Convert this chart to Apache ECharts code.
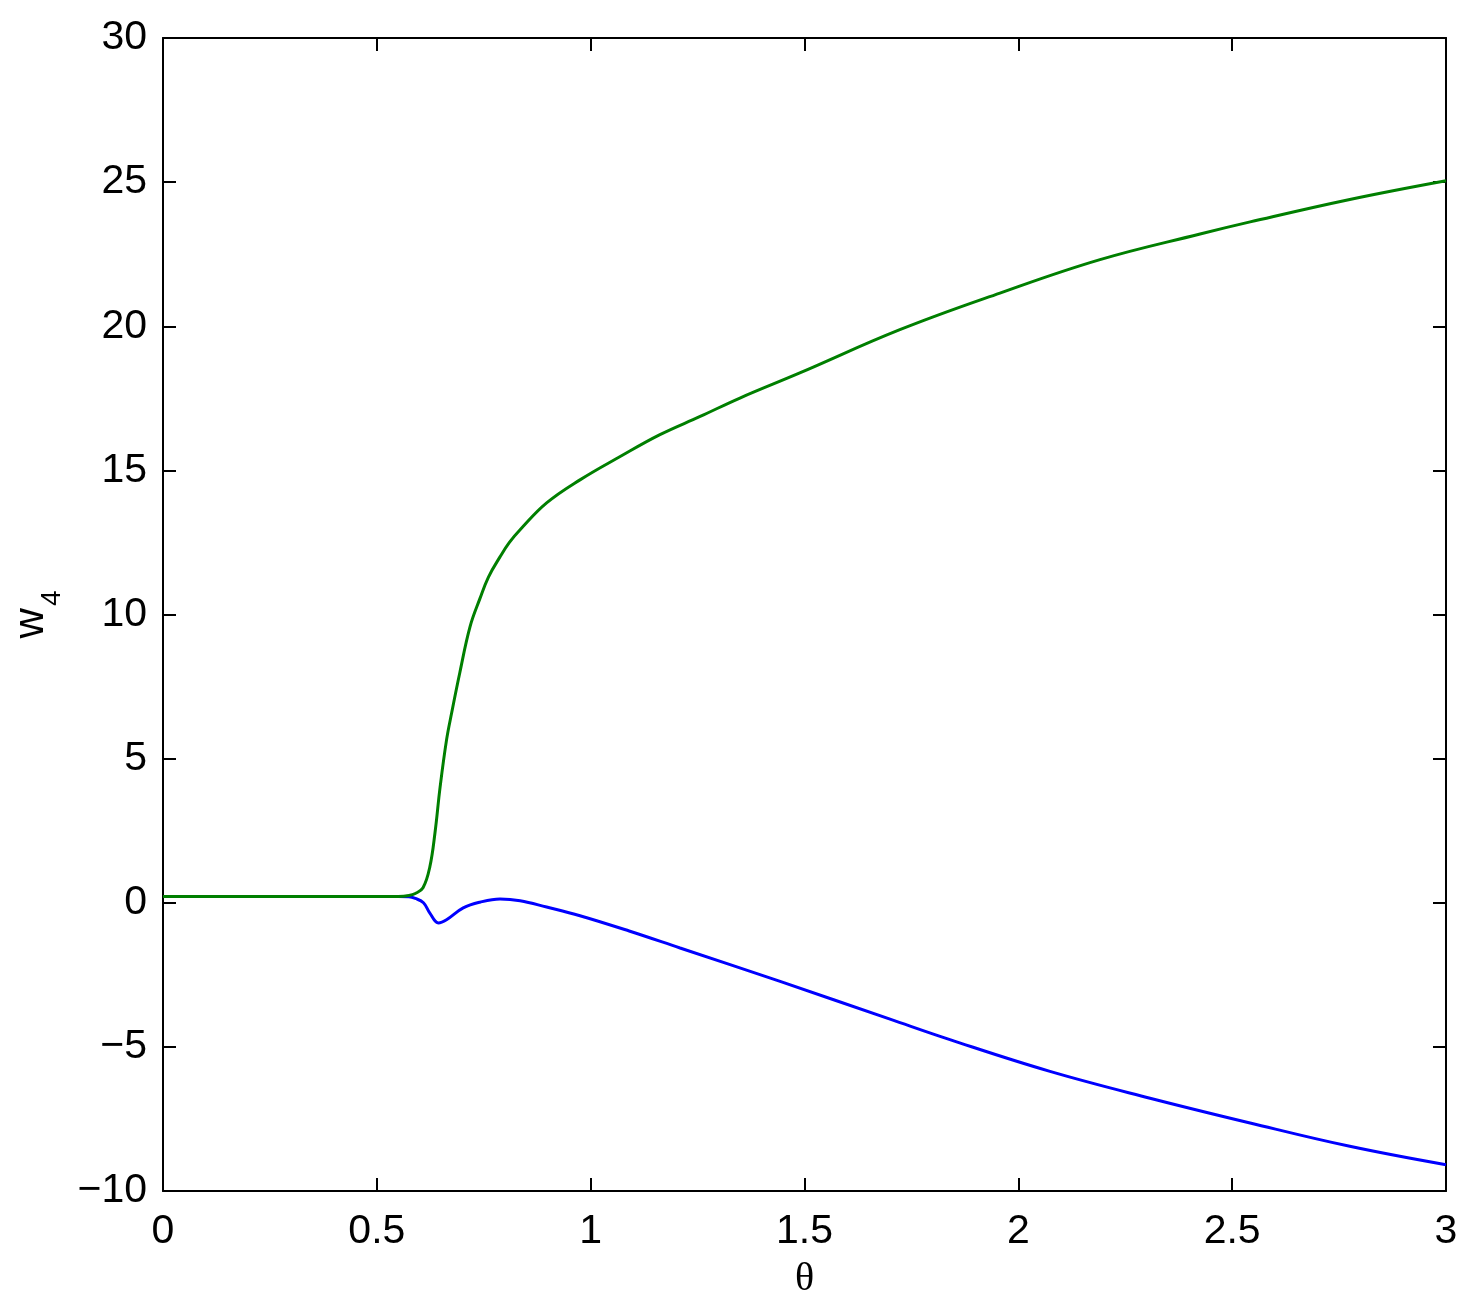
<!DOCTYPE html>
<html>
<head>
<meta charset="utf-8">
<script src="https://cdn.jsdelivr.net/npm/echarts@6/dist/echarts.min.js"></script>
<style>
html,body{margin:0;padding:0;background:#fff;}
#chart{width:1481px;height:1308px;}
</style>
</head>
<body>
<div id="chart"></div>
<script>
var xTicks = [0, 0.5, 1, 1.5, 2, 2.5, 3];
var yTicks = [-10, -5, 0, 5, 10, 15, 20, 25, 30];

var thetaGreen = [0, 0.3, 0.55, 0.575, 0.59, 0.608, 0.624, 0.636, 0.648, 0.663, 0.675, 0.694, 0.718, 0.741, 0.761, 0.788, 0.81, 0.835, 0.897, 0.975, 1.069, 1.162, 1.256, 1.349, 1.489, 1.723, 1.957, 2.191, 2.425, 2.542, 2.775, 3.0];
var valuesGreen = [0.22, 0.22, 0.22, 0.25, 0.32, 0.52, 1.25, 2.43, 4.02, 5.65, 6.59, 7.98, 9.58, 10.55, 11.3, 12.0, 12.5, 12.94, 13.87, 14.67, 15.48, 16.24, 16.87, 17.51, 18.38, 19.88, 21.15, 22.31, 23.2, 23.62, 24.4, 25.05];

var thetaBlue = [0, 0.3, 0.55, 0.575, 0.59, 0.609, 0.624, 0.644, 0.663, 0.702, 0.741, 0.788, 0.835, 0.897, 0.975, 1.09, 1.209, 1.443, 1.7, 1.84, 2.074, 2.308, 2.542, 2.775, 3.0];
var valuesBlue = [0.22, 0.22, 0.22, 0.21, 0.15, 0.0, -0.36, -0.70, -0.59, -0.18, 0.02, 0.13, 0.07, -0.15, -0.45, -0.98, -1.57, -2.73, -4.04, -4.75, -5.85, -6.78, -7.64, -8.45, -9.09];

function pairs(xs, ys){ return xs.map(function(x,i){ return [x, ys[i]]; }); }

var labelFont = '"Liberation Sans", Arial, sans-serif';
var chart = echarts.init(document.getElementById('chart'), null, {renderer:'canvas'});

function xAxisDef(pos, showLabels){
  return {
    type:'value', position:pos, min:0, max:3, interval:0.5,
    axisLine:{show:true, onZero:false, lineStyle:{color:'#000', width:2}},
    axisTick:{show:true, inside:true, length:13, lineStyle:{color:'#000', width:2}},
    splitLine:{show:false},
    axisLabel:{show:showLabels, color:'#000', fontSize:41, fontFamily:labelFont, margin:20},
    name: showLabels ? 'θ' : '',
    nameLocation:'middle', nameGap:68,
    nameTextStyle:{color:'#000', fontSize:40, fontFamily:'"Liberation Serif", "Times New Roman", serif'}
  };
}
function yAxisDef(pos, showLabels){
  return {
    type:'value', position:pos, min:-10, max:30, interval:5,
    axisLine:{show:true, onZero:false, lineStyle:{color:'#000', width:2}},
    axisTick:{show:true, inside:true, length:13, lineStyle:{color:'#000', width:2}},
    splitLine:{show:false},
    axisLabel:{show:showLabels, color:'#000', fontSize:41, fontFamily:labelFont, margin:16,
      formatter:function(v){ return String(v).replace('-', '\u2212'); }},
    name: showLabels ? '{w|w}{s|4}' : '',
    nameLocation:'middle', nameGap:108, nameRotate:90,
    nameTextStyle:{color:'#000', fontFamily:labelFont,
      rich:{
        w:{fontSize:42, fontFamily:labelFont, color:'#000', verticalAlign:'bottom'},
        s:{fontSize:28, fontFamily:labelFont, color:'#000', verticalAlign:'bottom', padding:[0,0,-14,2]}
      }}
  };
}

chart.setOption({
  animation:false,
  backgroundColor:'#fff',
  grid:{left:163, top:38, right:35, bottom:117, show:false},
  xAxis:[xAxisDef('bottom', true), xAxisDef('top', false)],
  yAxis:[yAxisDef('left', true), yAxisDef('right', false)],
  series:[
    {type:'line', xAxisIndex:0, yAxisIndex:0, data:pairs(thetaBlue, valuesBlue), showSymbol:false, smooth:0.4,
     lineStyle:{color:'#0000ff', width:3}, itemStyle:{color:'#0000ff'}, z:2},
    {type:'line', xAxisIndex:0, yAxisIndex:0, data:pairs(thetaGreen, valuesGreen), showSymbol:false, smooth:0.4,
     lineStyle:{color:'#007f00', width:3}, itemStyle:{color:'#007f00'}, z:3}
  ]
});
</script>
</body>
</html>
